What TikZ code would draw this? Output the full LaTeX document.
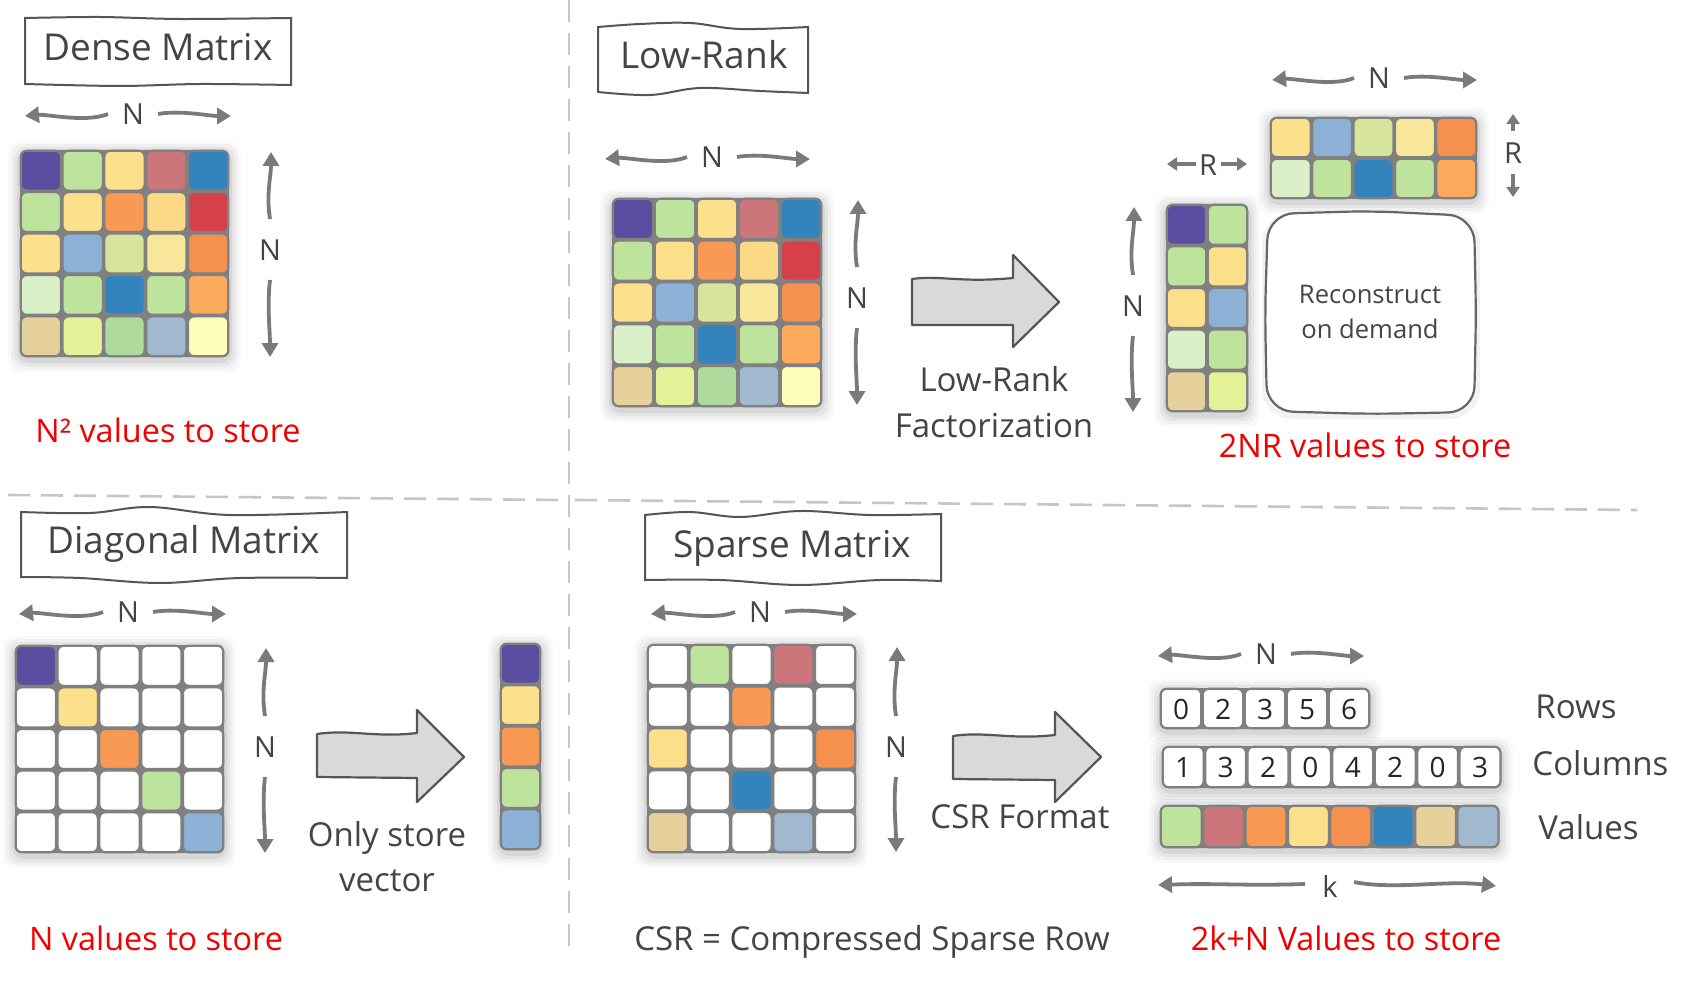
\documentclass[tikz,border=0pt]{standalone}
\usepackage{fontspec}
\setmainfont{Open Sans}
\usetikzlibrary{arrows.meta,calc}
\definecolor{txtgray}{HTML}{444444}
\definecolor{arrgray}{HTML}{7A7A7A}
\definecolor{boxgray}{HTML}{555555}
\definecolor{cellgray}{HTML}{808080}
\definecolor{divgray}{HTML}{C6C6C6}
\definecolor{arrfill}{HTML}{D9D9D9}
\definecolor{redtxt}{HTML}{F20000}
\definecolor{cPur}{HTML}{5B4EA1}
\definecolor{cLG}{HTML}{BEE39D}
\definecolor{cY}{HTML}{FDE08C}
\definecolor{cRose}{HTML}{CC757B}
\definecolor{cBlue}{HTML}{3384BC}
\definecolor{cOr}{HTML}{F89A54}
\definecolor{cYb}{HTML}{FCD986}
\definecolor{cRed}{HTML}{D6404B}
\definecolor{cLB}{HTML}{8BB1D6}
\definecolor{cYG}{HTML}{D7E49B}
\definecolor{cPY}{HTML}{F8E69B}
\definecolor{cOrb}{HTML}{F5904F}
\definecolor{cPG}{HTML}{DAF0C8}
\definecolor{cOrc}{HTML}{FCAB5D}
\definecolor{cTan}{HTML}{E5D199}
\definecolor{cLime}{HTML}{E3F297}
\definecolor{cGb}{HTML}{AEDA9E}
\definecolor{cGB}{HTML}{A1B9CF}
\definecolor{cCream}{HTML}{FDFCB9}

% #1 prefix #2 x0 #3 y0 #4 ncols #5 nrows #6 cw #7 ch #8 colours
\newcommand{\mgrid}[8]{%
  \foreach \e/\o in {12/0.025,9/0.035,6/0.045,3/0.06}{%
    \fill[black,opacity=\o,rounded corners=6pt] ({#2-\e},{#3-\e+3}) rectangle ({#2+#4*#6+\e},{#3+#5*#7+\e+3});
  }%
  \fill[cellgray,rounded corners=3pt] (#2,#3) rectangle ({#2+#4*#6},{#3+#5*#7});
  \foreach \c [count=\i from 0] in {#8}{%
    \pgfmathtruncatemacro\cc{mod(\i,#4)}%
    \pgfmathtruncatemacro\rr{floor(\i/#4)}%
    \node[cellbox,fill=\c,minimum width={(#6-1.5)*0.5pt},minimum height={(#7-1.5)*0.5pt}] (#1-\i) at ({#2+(\cc+0.5)*#6},{#3+(\rr+0.5)*#7}) {};
  }%
}
% #1 name #2 label #3 xc #4 yc #5 left end #6 right end
\newcommand{\hdim}[6]{%
  \node[dimlbl] (#1) at (#3,#4) {#2};
  \draw[dimarr] ($(#1)+(-25,0)$) .. controls +(-22,9) and +(22,-2) .. (#5,{#4+2});
  \draw[dimarr] ($(#1)+(25,0)$) .. controls +(22,-4) and +(-22,0) .. (#6,{#4+2});
}
% #1 name #2 label #3 x #4 yc #5 top #6 bottom
\newcommand{\vdim}[6]{%
  \node[dimlbl] (#1) at (#3,#4) {#2};
  \draw[dimarr] ($(#1)+(0,-31)$) .. controls +(-4,-25) and +(0,25) .. ({#3+1},#5);
  \draw[dimarr] ($(#1)+(0,30)$) .. controls +(-3,25) and +(0,-25) .. (#3,#6);
}

\begin{document}
\begin{tikzpicture}[x=0.5pt,y=-0.5pt,
  txt/.style={text=txtgray,inner sep=0pt,text height=2.0ex,text depth=0pt},
  ttl/.style={txt,font=\fontsize{18.5}{22}\selectfont},
  lbl/.style={txt,font=\fontsize{16.5}{20}\selectfont},
  small/.style={txt,font=\fontsize{12.8}{15}\selectfont},
  dimlbl/.style={txt,font=\fontsize{14.5}{17}\selectfont},
  digit/.style={txt,text=black!85,font=\fontsize{14}{16}\selectfont},
  redlbl/.style={txt,text=redtxt,font=\fontsize{16.2}{19}\selectfont},
  dimarr/.style={draw=arrgray,line width=1.9pt,-{Triangle[length=7pt,width=8pt]}},
  dimarrs/.style={draw=arrgray,line width=1.8pt,-{Triangle[length=5pt,width=6.5pt]}},
  tbox/.style={draw=boxgray,line width=1pt,fill=white},
  cellbox/.style={draw=cellgray,line width=1.1pt,rounded corners=3pt,inner sep=0pt},
  blockarr/.style={draw=boxgray,fill=arrfill,line width=1.1pt,line join=round},
  rbox/.style={draw=boxgray!90,fill=white,line width=1.1pt,rounded corners=13pt},
  divider/.style={draw=divgray,line width=1.3pt,dash pattern=on 11pt off 5.5pt}
]
\useasboundingbox (0,0) rectangle (1689,989);
\fill[white] (0,0) rectangle (1689,989);

% dividers
\draw[divider] (569,0) -- (569,948);
\draw[divider] (8,495) -- (563,500);
\draw[divider] (575,500) -- (1637,510);

% ===== Dense Matrix =====
\draw[tbox] plot[smooth,tension=0.5] coordinates {(25,18) (100,17) (180,19) (291,18)}
  -- plot[smooth,tension=0.5] coordinates {(291,85) (200,84) (120,86) (25,84)} -- cycle;
\node[ttl] (tDense) at (158,50) {Dense Matrix};
\hdim{nDh}{N}{133}{114}{25}{231}
\mgrid{dm}{20}{150}{5}{5}{41.8}{41.4}{cPur,cLG,cY,cRose,cBlue,cLG,cY,cOr,cYb,cRed,cY,cLB,cYG,cPY,cOrb,cPG,cLG,cBlue,cLG,cOrc,cTan,cLime,cGb,cGB,cCream}
\vdim{nDv}{N}{270}{250}{152}{357}
\node[redlbl] (rDense) at (168,432) {N² values to store};

% ===== Low-Rank =====
\draw[tbox] plot[smooth,tension=0.6] coordinates {(598,27) (640,24) (690,23) (740,29) (808,27)}
  -- plot[smooth,tension=0.6] coordinates {(808,93) (760,91) (700,88) (650,95) (598,92)} -- cycle;
\node[ttl] (tLow) at (704,58) {Low-Rank};
\hdim{nLh}{N}{712}{157}{605}{810}
\mgrid{lm}{612}{198}{5}{5}{42}{41.8}{cPur,cLG,cY,cRose,cBlue,cLG,cY,cOr,cYb,cRed,cY,cLB,cYG,cPY,cOrb,cPG,cLG,cBlue,cLG,cOrc,cTan,cLime,cGb,cGB,cCream}
\vdim{nLv}{N}{857}{298}{200}{405}
\draw[blockarr] (912,279) .. controls (940,275) and (960,283) .. (1013,278) -- (1013,255)
  -- (1059,302) -- (1013,347) -- (1013,325) -- (912,325) -- cycle;
\node[lbl] (lLow1) at (994,381) {Low-Rank};
\node[lbl] (lLow2) at (994,427) {Factorization};
% factor matrices
\mgrid{tm}{1166}{204}{2}{5}{41}{41.6}{cPur,cLG,cLG,cY,cY,cLB,cPG,cLG,cTan,cLime}
\mgrid{wm}{1270}{117}{5}{2}{41.4}{41}{cY,cLB,cYG,cPY,cOrb,cPG,cLG,cBlue,cLG,cOrc}
\vdim{nTv}{N}{1133}{306}{207}{412}
\hdim{nWh}{N}{1379}{78}{1272}{1477}
\node[dimlbl] (rTh) at (1208,165) {R};
\draw[dimarrs] ($(rTh)+(-12,-1)$) -- (1167,164);
\draw[dimarrs] ($(rTh)+(13,-1)$) -- (1247,164);
\node[dimlbl] (rWv) at (1513,153) {R};
\draw[dimarrs] ($(rWv)+(0,-22)$) -- (1513,114);
\draw[dimarrs] ($(rWv)+(0,21)$) -- (1513,197);
\fill[black,opacity=0.05,rounded corners=15pt] (1262,213) rectangle (1480,419);
\draw[rbox] (1268,214) -- (1370,211) -- (1474,216) -- (1476,313) -- (1474,412)
  -- (1370,414) -- (1267,411) -- (1265,313) -- cycle;
\node[small] (rc1) at (1370,293) {Reconstruct};
\node[small] (rc2) at (1370,328) {on demand};
\node[redlbl] (rLow) at (1365,447) {2NR values to store};

% ===== Diagonal Matrix =====
\draw[tbox] plot[smooth,tension=0.6] coordinates {(21,512) (90,513) (150,507) (230,515) (347,512)}
  -- plot[smooth,tension=0.6] coordinates {(347,578) (240,578) (160,583) (80,578) (21,577)} -- cycle;
\node[ttl] (tDiag) at (184,543) {Diagonal Matrix};
\hdim{nGh}{N}{128}{612}{19}{226}
\mgrid{gm}{15}{645}{5}{5}{41.8}{41.6}{cPur,white,white,white,white,white,cY,white,white,white,white,white,cOr,white,white,white,white,white,cLG,white,white,white,white,white,cLB}
\vdim{nGv}{N}{265}{747}{648}{853}
\draw[blockarr] (317,734) .. controls (350,729) and (375,738) .. (417,733) -- (417,710)
  -- (464,757) -- (417,802) -- (417,778) -- (317,777) -- cycle;
\node[lbl] (lOnly1) at (387,836) {Only store};
\node[lbl] (lOnly2) at (387,881) {vector};
\mgrid{vm}{500}{643}{1}{5}{41}{41.4}{cPur,cY,cOr,cLG,cLB}
\node[redlbl] (rDiag) at (156,940) {N values to store};

% ===== Sparse Matrix =====
\draw[tbox] plot[smooth,tension=0.6] coordinates {(645,515) (690,512) (740,517) (800,511) (870,515) (941,514)}
  -- plot[smooth,tension=0.6] coordinates {(941,581) (880,580) (800,585) (720,580) (645,580)} -- cycle;
\node[ttl] (tSparse) at (792,547) {Sparse Matrix};
\hdim{nSh}{N}{760}{612}{651}{857}
\mgrid{sm}{647}{644}{5}{5}{41.8}{41.8}{white,cLG,white,cRose,white,white,white,cOr,white,white,cY,white,white,white,cOrb,white,white,cBlue,white,white,cTan,white,white,cGB,white}
\vdim{nSv}{N}{896}{747}{647}{852}
\draw[blockarr] (953,736) .. controls (985,731) and (1010,740) .. (1055,735) -- (1055,712)
  -- (1101,757) -- (1055,802) -- (1055,780) -- (953,779) -- cycle;
\node[lbl] (lCSR) at (1020,818) {CSR Format};
\hdim{nRh}{N}{1266}{654}{1158}{1364}
\mgrid{rw}{1160}{688}{5}{1}{42}{41}{white,white,white,white,white}
\foreach \d [count=\i from 0] in {0,2,3,5,6} \node[digit] (rwd-\i) at (rw-\i) {\d};
\mgrid{cl}{1162}{746}{8}{1}{42.4}{42}{white,white,white,white,white,white,white,white}
\foreach \d [count=\i from 0] in {1,3,2,0,4,2,0,3} \node[digit] (cld-\i) at (cl-\i) {\d};
\mgrid{vl}{1160}{805}{8}{1}{42.4}{43}{cLG,cRose,cOr,cY,cOrb,cBlue,cTan,cGB}
\node[lbl,anchor=west] (lRows) at (1535,708) {Rows};
\node[lbl,anchor=west] (lCols) at (1532,765) {Columns};
\node[lbl,anchor=west] (lVals) at (1538,829) {Values};
\node[dimlbl] (kLab) at (1330,887) {k};
\draw[dimarr] ($(kLab)+(-25,-3)$) .. controls +(-60,2) and +(60,-2) .. (1158,885);
\draw[dimarr] ($(kLab)+(24,-5)$) .. controls +(40,8) and +(-50,-6) .. (1496,886);
\node[lbl] (lCSRdef) at (872,940) {CSR = Compressed Sparse Row};
\node[redlbl] (rSparse) at (1346,940) {2k+N Values to store};
\end{tikzpicture}
\end{document}
